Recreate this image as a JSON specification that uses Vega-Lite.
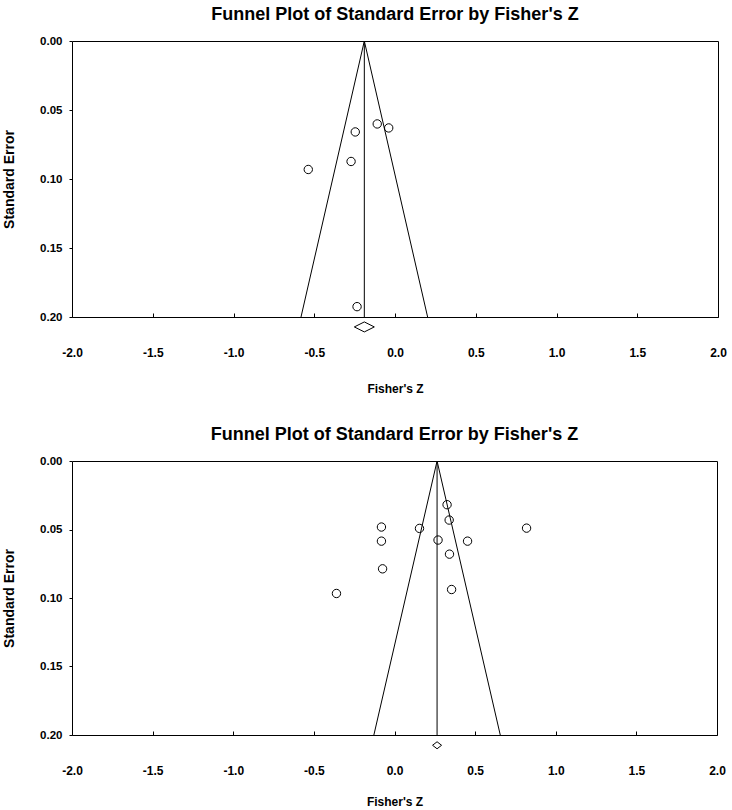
{
  "$schema": "https://vega.github.io/schema/vega-lite/v6.json",
  "padding": {"top": 5, "left": 2, "right": 5, "bottom": 0},
  "background": "white",
  "spacing": 30,
  "config": {
    "font": "Liberation Sans",
    "view": {"stroke": "black", "strokeWidth": 1},
    "axis": {
      "grid": false,
      "domain": false,
      "labelFont": "Liberation Sans",
      "labelFontWeight": "bold",
      "labelColor": "black",
      "titleFont": "Liberation Sans",
      "titleFontWeight": "bold",
      "titleColor": "black",
      "tickColor": "black"
    },
    "axisX": {"labelFontSize": 12, "titleFontSize": 12},
    "axisY": {"labelFontSize": 11.5, "titleFontSize": 14},
    "title": {"font": "Liberation Sans", "fontSize": 18, "fontWeight": "bold", "color": "black", "anchor": "middle", "offset": 11}
  },
  "vconcat": [
    {
      "title": "Funnel Plot of Standard Error by Fisher's Z",
      "width": 646,
      "height": 276,
      "encoding": {
        "x": {"field": "x", "type": "quantitative", "scale": {"domain": [-2, 2], "nice": false, "zero": false},
          "axis": {"title": "Fisher's Z", "values": [-2, -1.5, -1, -0.5, 0, 0.5, 1, 1.5, 2], "labelExpr": "replace(format(datum.value, '.1f'), '\u2212', '-')", "tickSize": -4, "labelPadding": 34, "titlePadding": 25, "labelFlush": false}},
        "y": {"field": "y", "type": "quantitative", "scale": {"domain": [0, 0.2], "reverse": true, "nice": false, "zero": false},
          "axis": {"title": "Standard Error", "values": [0, 0.05, 0.1, 0.15, 0.2], "format": ".2f", "tickSize": 3, "labelPadding": 7, "titlePadding": 23, "labelFlush": false}}
      },
      "layer": [
        {
          "data": {"values": [{"x": -0.582, "y": 0.2, "k": 1}, {"x": -0.19, "y": 0, "k": 2}, {"x": 0.202, "y": 0.2, "k": 3}]},
          "mark": {"type": "line", "color": "black", "strokeWidth": 1},
          "encoding": {"order": {"field": "k", "type": "quantitative"}}
        },
        {
          "data": {"values": [{"x": -0.19, "y": 0, "y2": 0.2}]},
          "mark": {"type": "rule", "color": "black", "strokeWidth": 1},
          "encoding": {"y2": {"field": "y2"}}
        },
        {
          "data": {"values": [
            {"x": -0.246, "y": 0.0659},
            {"x": -0.110, "y": 0.0601},
            {"x": -0.039, "y": 0.0630},
            {"x": -0.272, "y": 0.0873},
            {"x": -0.537, "y": 0.0931},
            {"x": -0.235, "y": 0.1925}
          ]},
          "mark": {"type": "point", "shape": "circle", "filled": false, "color": "black", "strokeWidth": 1, "size": 70, "opacity": 1}
        },
        {
          "data": {"values": [{"x": -0.19, "y": 0.2072}]},
          "mark": {"type": "point", "shape": "M-1,0L0,-0.5L1,0L0,0.5Z", "filled": false, "color": "black", "strokeWidth": 1, "size": 400, "opacity": 1}
        }
      ]
    },
    {
      "title": "Funnel Plot of Standard Error by Fisher's Z",
      "width": 645,
      "height": 274,
      "encoding": {
        "x": {"field": "x", "type": "quantitative", "scale": {"domain": [-2, 2], "nice": false, "zero": false},
          "axis": {"title": "Fisher's Z", "values": [-2, -1.5, -1, -0.5, 0, 0.5, 1, 1.5, 2], "labelExpr": "replace(format(datum.value, '.1f'), '\u2212', '-')", "tickSize": -4, "labelPadding": 34, "titlePadding": 20, "labelFlush": false}},
        "y": {"field": "y", "type": "quantitative", "scale": {"domain": [0, 0.2], "reverse": true, "nice": false, "zero": false},
          "axis": {"title": "Standard Error", "values": [0, 0.05, 0.1, 0.15, 0.2], "format": ".2f", "tickSize": 3, "labelPadding": 7, "titlePadding": 23, "labelFlush": false}}
      },
      "layer": [
        {
          "data": {"values": [{"x": -0.128, "y": 0.2, "k": 1}, {"x": 0.264, "y": 0, "k": 2}, {"x": 0.656, "y": 0.2, "k": 3}]},
          "mark": {"type": "line", "color": "black", "strokeWidth": 1},
          "encoding": {"order": {"field": "k", "type": "quantitative"}}
        },
        {
          "data": {"values": [{"x": 0.264, "y": 0, "y2": 0.2}]},
          "mark": {"type": "rule", "color": "black", "strokeWidth": 1},
          "encoding": {"y2": {"field": "y2"}}
        },
        {
          "data": {"values": [
            {"x": 0.326, "y": 0.0319},
            {"x": 0.339, "y": 0.0431},
            {"x": -0.081, "y": 0.0482},
            {"x": 0.155, "y": 0.0492},
            {"x": 0.819, "y": 0.0490},
            {"x": -0.081, "y": 0.0585},
            {"x": 0.270, "y": 0.0577},
            {"x": 0.453, "y": 0.0585},
            {"x": 0.341, "y": 0.0680},
            {"x": -0.074, "y": 0.0787},
            {"x": 0.354, "y": 0.0938},
            {"x": -0.360, "y": 0.0967}
          ]},
          "mark": {"type": "point", "shape": "circle", "filled": false, "color": "black", "strokeWidth": 1, "size": 70, "opacity": 1}
        },
        {
          "data": {"values": [{"x": 0.264, "y": 0.2075}]},
          "mark": {"type": "point", "shape": "M-1,0L0,-0.78L1,0L0,0.78Z", "filled": false, "color": "black", "strokeWidth": 1, "size": 81, "opacity": 1}
        }
      ]
    }
  ]
}
